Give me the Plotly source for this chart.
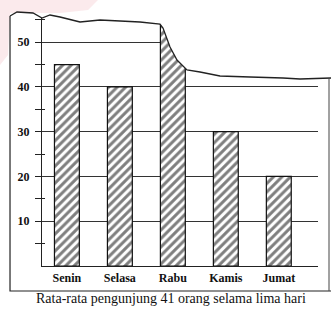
import plotly.graph_objects as go

# Data
days = ["Senin", "Selasa", "Rabu", "Kamis", "Jumat"]
visitors = [45, 40, 70, 30, 20]
caption = "Rata-rata pengunjung 41 orang selama lima hari"
ytick_vals = [10, 20, 30, 40, 50]
ytick_text = ["10", "20", "30", "40", "50"]

W, H = 331, 309
L, R, T, B = 42, 13, 18, 43
PW, PH = W - L - R, H - T - B


def px(x):
    return (x - L) / PW


def py(y):
    return (H - B - y) / PH


def path(points, close=True):
    s = "M " + " L ".join(f"{px(x):.4f},{py(y):.4f}" for x, y in points)
    return s + (" Z" if close else "")


wave = [(10, 16), (17, 12), (33, 13), (42, 18), (50, 15), (60, 17), (80, 22),
        (100, 20), (120, 21), (140, 22), (160, 24), (163, 28), (170, 47),
        (177, 60), (187, 70), (200, 72), (220, 76), (250, 77), (283, 78),
        (300, 79), (331, 78)]

fig = go.Figure()
fig.add_trace(go.Bar(
    x=days, y=visitors,
    marker=dict(color="white",
                line=dict(color="#111", width=1.2),
                pattern=dict(shape="/", fgcolor="#000", bgcolor="white",
                             size=6, solidity=0.5)),
    showlegend=False,
))
fig.add_trace(go.Scatter(x=[days[0]], y=[0], yaxis="y2", mode="markers",
                         marker=dict(opacity=0), showlegend=False,
                         hoverinfo="skip"))

font = dict(family="Liberation Serif", color="#111")
fig.update_layout(
    width=W, height=H,
    margin=dict(l=L, r=R, t=T, b=B),
    paper_bgcolor="white", plot_bgcolor="white",
    bargap=0.53,
    xaxis=dict(range=[-0.47, 4.74], showline=True, linecolor="#222",
               linewidth=1.2, ticks="", showgrid=False,
               tickfont=dict(size=12, **font, weight="bold")),
    yaxis=dict(range=[0, 55.4], showline=True, linecolor="#222",
               linewidth=1.2, tickmode="array", tickvals=ytick_vals,
               ticktext=ytick_text, ticks="outside", ticklen=6,
               tickcolor="#222", showgrid=True, gridcolor="#333",
               gridwidth=1, zeroline=False, ticklabelstandoff=3,
               tickfont=dict(size=12, **font, weight="bold"),
               minor=dict(ticks="outside", tick0=5, dtick=10, ticklen=6,
                          tickcolor="#222", showgrid=False)),
    yaxis2=dict(range=[0, 55.4], overlaying="y", anchor="x", side="left",
                showgrid=False, zeroline=False, showticklabels=False,
                ticks="inside", tick0=5, dtick=10, ticklen=3,
                tickcolor="#222", showline=False),
    shapes=[
        # torn page: blank above the wave
        dict(type="path", xref="paper", yref="paper", layer="above",
             path=path(wave + [(331, -5), (0, -5), (0, 16)]),
             fillcolor="white", line=dict(width=0)),
        # faint pink watermark
        dict(type="path", xref="paper", yref="paper", layer="above",
             path=path([(0, 0), (98, 0), (88, 10), (60, 13), (10, 13),
                        (8, 55), (0, 65)]),
             fillcolor="rgba(240,170,180,0.25)", line=dict(width=0)),
        # wave edge
        dict(type="path", xref="paper", yref="paper", layer="above",
             path=path(wave, close=False),
             line=dict(color="#222", width=1.3)),
        # outer frame of the page
        dict(type="path", xref="paper", yref="paper", layer="above",
             path=path([(10, 16), (10, 291), (331, 291)], close=False),
             line=dict(color="#222", width=1.2)),
        dict(type="path", xref="paper", yref="paper", layer="above",
             path=path([(329, 78), (329, 291)], close=False),
             line=dict(color="#444", width=1)),
    ],
    annotations=[dict(text=caption, xref="paper", yref="paper",
                      x=px(171), y=py(298), showarrow=False,
                      xanchor="center", yanchor="middle",
                      font=dict(size=14, **font))],
)

fig.write_html("out.html", config={"displayModeBar": False},
               post_script="document.body.style.margin='0px';")
